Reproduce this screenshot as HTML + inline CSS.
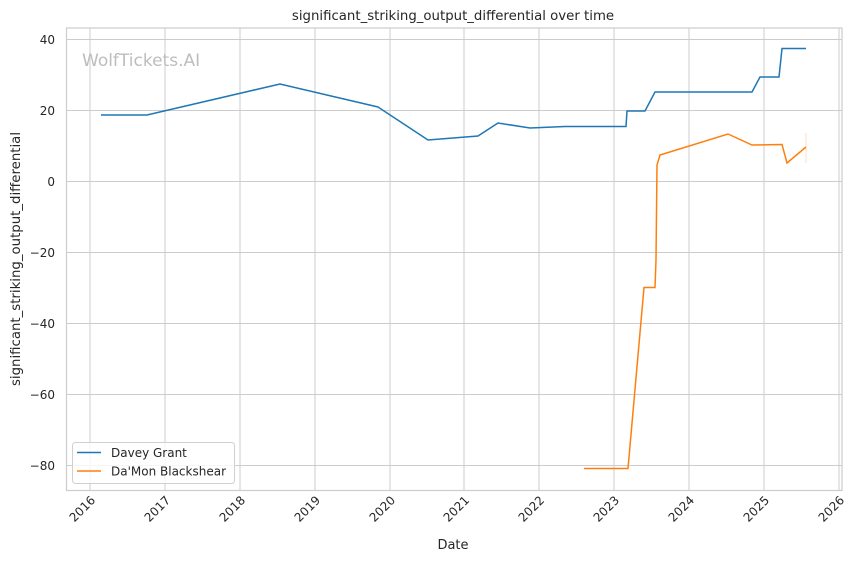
<!DOCTYPE html>
<html><head><meta charset="utf-8"><style>body{margin:0;background:#fff}svg{display:block}text{font-family:"DejaVu Sans","Liberation Sans",sans-serif;fill:#262626}</style></head><body>
<svg width="864" height="561" viewBox="0 0 864 561">
<rect width="864" height="561" fill="#fff"/>
<g stroke="#cccccc" stroke-width="1">
<line x1="90" y1="28" x2="90" y2="490.5"/><line x1="165" y1="28" x2="165" y2="490.5"/><line x1="240" y1="28" x2="240" y2="490.5"/><line x1="315" y1="28" x2="315" y2="490.5"/><line x1="390" y1="28" x2="390" y2="490.5"/><line x1="464" y1="28" x2="464" y2="490.5"/><line x1="539" y1="28" x2="539" y2="490.5"/><line x1="614" y1="28" x2="614" y2="490.5"/><line x1="689" y1="28" x2="689" y2="490.5"/><line x1="764" y1="28" x2="764" y2="490.5"/><line x1="839" y1="28" x2="839" y2="490.5"/>
<line x1="66.5" y1="39.5" x2="842" y2="39.5"/><line x1="66.5" y1="110.5" x2="842" y2="110.5"/><line x1="66.5" y1="181.5" x2="842" y2="181.5"/><line x1="66.5" y1="252.5" x2="842" y2="252.5"/><line x1="66.5" y1="323.5" x2="842" y2="323.5"/><line x1="66.5" y1="394.5" x2="842" y2="394.5"/><line x1="66.5" y1="465.5" x2="842" y2="465.5"/>
</g>
<rect x="66.5" y="28" width="775.5" height="462.5" fill="none" stroke="#cccccc" stroke-width="1.2"/>
<text x="82" y="66" font-size="17" style="fill:#bdbdbd">WolfTickets.AI</text>
<polyline fill="none" stroke="#1f77b4" stroke-width="1.5" points="101,115 147,115 280,84 378,107 428,140 478,136 498,123 530,128 565,126.5 626,126.5 627,111 645,111 655,92 752,92 760,77 779,77 782,48.5 806,48.5"/>
<polyline fill="none" stroke="#ff7f0e" stroke-width="1.5" points="584,468.5 628,468.5 644,287.5 655,287.5 656,260 657,165 660,155 728,134 752,145 782,144.5 787,163 806,147"/>
<line x1="806" y1="133" x2="806" y2="163" stroke="#ff7f0e" stroke-opacity="0.25" stroke-width="1"/>
<text x="453" y="20" font-size="13.3" text-anchor="middle">significant_striking_output_differential over time</text>
<g font-size="12" text-anchor="end">
<text x="55" y="44">40</text><text x="55" y="115">20</text><text x="55" y="186">0</text><text x="55" y="257">−20</text><text x="55" y="328">−40</text><text x="55" y="399">−60</text><text x="55" y="470">−80</text>
</g>
<g font-size="12" text-anchor="end">
<text transform="translate(96,501) rotate(-45)">2016</text><text transform="translate(171,501) rotate(-45)">2017</text><text transform="translate(246,501) rotate(-45)">2018</text><text transform="translate(321,501) rotate(-45)">2019</text><text transform="translate(396,501) rotate(-45)">2020</text><text transform="translate(470,501) rotate(-45)">2021</text><text transform="translate(545,501) rotate(-45)">2022</text><text transform="translate(620,501) rotate(-45)">2023</text><text transform="translate(695,501) rotate(-45)">2024</text><text transform="translate(770,501) rotate(-45)">2025</text><text transform="translate(845,501) rotate(-45)">2026</text>
</g>
<text x="453" y="549" font-size="13" text-anchor="middle">Date</text>
<text transform="translate(20,259) rotate(-90)" font-size="13.3" text-anchor="middle">significant_striking_output_differential</text>
<rect x="72.5" y="442.5" width="162" height="41" rx="3" fill="#fff" fill-opacity="0.8" stroke="#d0d0d0"/>
<line x1="77" y1="452.5" x2="101" y2="452.5" stroke="#1f77b4" stroke-width="1.5"/>
<line x1="77" y1="471" x2="101" y2="471" stroke="#ff7f0e" stroke-width="1.5"/>
<text x="111" y="457" font-size="12">Davey Grant</text>
<text x="111" y="475.5" font-size="12">Da'Mon Blackshear</text>
</svg>
</body></html>
